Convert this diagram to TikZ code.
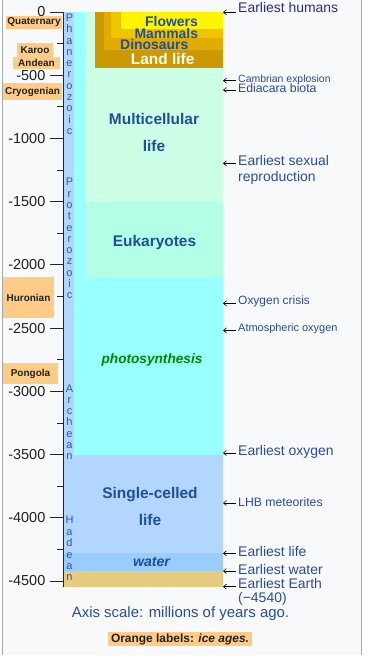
\documentclass[tikz,border=0pt]{standalone}
\usepackage{fontspec}
\setmainfont{Liberation Sans}
\usetikzlibrary{arrows.meta}
\newcommand\pxfont[1]{\fontsize{#1}{#1}\selectfont}
\definecolor{framegray}{HTML}{A2A9B1}
\definecolor{boxbg}{HTML}{F8F9FA}
\definecolor{textgray}{HTML}{202122}
\definecolor{eoncol}{HTML}{B3D6FF}
\definecolor{photocol}{HTML}{99FFFF}
\definecolor{multicol}{HTML}{CCFFE6}
\definecolor{eukcol}{HTML}{B3FFE6}
\definecolor{watercol}{HTML}{99CCFF}
\definecolor{earthcol}{HTML}{E6CC80}
\definecolor{landcol}{HTML}{CC9900}
\definecolor{dinocol}{HTML}{E0AD00}
\definecolor{mammalcol}{HTML}{F0C400}
\definecolor{flowercol}{HTML}{FFF500}
\definecolor{iceorange}{HTML}{FFCC88}
\definecolor{evblue}{HTML}{2A4B9B}
\definecolor{visitblue}{HTML}{2B2B8F}
\definecolor{lifeblue}{HTML}{1F4E9A}
\definecolor{eonblue}{HTML}{2858C0}
\definecolor{photogreen}{HTML}{008800}
\begin{document}
\begin{tikzpicture}[x=1bp,y=-1bp,>={Straight Barb[length=3bp,width=5bp]},
	ticklab/.style={anchor=east,inner sep=0pt,text=textgray,font=\pxfont{14.5}},
	tickline/.style={line width=0.8bp,black!85},
	icebox/.style={fill=iceorange,inner sep=0pt,text=textgray,font=\pxfont{10}\bfseries},
	eonletter/.style={anchor=base,inner sep=0pt,text=eonblue,font=\pxfont{11}},
	goldlab/.style={anchor=base,inner sep=0pt,text=lifeblue,font=\pxfont{14}\bfseries},
	lifelab/.style={inner sep=0pt,text=lifeblue,align=center,font=\fontsize{15.5}{26.7}\selectfont\bfseries},
	event/.style={anchor=base west,inner xsep=2bp,inner ysep=0pt,text=evblue},
	evarrow/.style={->,line width=0.6bp}]
	\useasboundingbox (0,0) rectangle (369,671);
	\fill[white] (0,0) rectangle (369,671);
	\fill[boxbg] (2.5,0) rectangle (361.5,655);
	\draw[framegray] (2.5,0) -- (2.5,655) (361.5,0) -- (361.5,655);
	% the life column
	\fill[eoncol] (63,12) rectangle (74,587);
	\fill[photocol] (74,12) rectangle (223,454.5);
	\fill[multicol] (85,12) rectangle (223,202);
	\fill[eukcol] (85,202) rectangle (223,277);
	\fill[eoncol] (63,454.5) rectangle (223,553.3);
	\fill[watercol] (63,553.3) rectangle (223,571);
	\fill[earthcol] (63,571) rectangle (223,586.7);
	% land life
	\fill[landcol] (95,12) rectangle (223,68.5);
	\fill[dinocol] (104,12) rectangle (223,50.5);
	\fill[mammalcol] (111,12) rectangle (223,38.5);
	\fill[flowercol] (121,12) rectangle (223,29);
	\node[goldlab] (flowers) at (171.5,26.5) {Flowers};
	\node[goldlab] (mammals) at (166.3,38.3) {Mammals};
	\node[goldlab] (dinosaurs) at (154.3,50) {Dinosaurs};
	\node[goldlab,text=white,font=\pxfont{15.5}\bfseries] (landlife) at (162.7,64.3) {Land life};
	% the axis
	\draw[line width=1bp,black!85] (63,12) -- (63,587);
	\foreach \t/\lab in {0/0,500/-500,1000/-1000,1500/-1500,2000/-2000,2500/-2500,3000/-3000,3500/-3500,4000/-4000,4500/-4500}{
		\draw[tickline] (50,{12+0.12644*\t}) -- (63,{12+0.12644*\t});
		\node[ticklab] (tick\t) at (45.5,{12+0.12644*\t}) {\lab};
	}
	\foreach \t in {250,750,...,4250}
		\draw[tickline] (57,{12+0.12644*\t}) -- (63,{12+0.12644*\t});
	% eons
	\foreach \ch [count=\i from 0] in {P,h,a,n,e,r,o,z,o,i,c}
		\node[eonletter] (phan\i) at (69.5,21.5+11.3*\i) {\ch};
	\foreach \ch [count=\i from 0] in {P,r,o,t,e,r,o,z,o,i,c}
		\node[eonletter] (prot\i) at (69.5,185.8+11.3*\i) {\ch};
	\foreach \ch [count=\i from 0] in {A,r,c,h,e,a,n}
		\node[eonletter] (arch\i) at (69.5,392+11.3*\i) {\ch};
	\foreach \ch [count=\i from 0] in {H,a,d,e,a,n}
		\node[eonletter] (hade\i) at (69.5,523.8+11.4*\i) {\ch};
	% ice ages
	\node[icebox,minimum width=56bp,minimum height=12.5bp] (quaternary) at (34,22.5) {Quaternary};
	\node[icebox,minimum width=36bp,minimum height=14bp] (karoo) at (35,50) {Karoo};
	\node[icebox,minimum width=47bp,minimum height=11.5bp] (andean) at (36.5,62.8) {Andean};
	\node[icebox,minimum width=59bp,minimum height=17bp] (cryogenian) at (32.5,91.5) {Cryogenian};
	\node[icebox,minimum width=51bp,minimum height=41bp] (huronian) at (28.5,297.5) {Huronian};
	\node[icebox,minimum width=55bp,minimum height=21bp] (pongola) at (30.5,373.5) {Pongola};
	% life labels
	\node[lifelab,anchor=north] (multicell) at (154,113.5) {Multicellular\\life};
	\node[lifelab,anchor=base] (eukaryotes) at (154.5,246.5) {Eukaryotes};
	\node[lifelab,anchor=base,text=photogreen,font=\pxfont{13.7}\bfseries\itshape] (photo) at (152,363) {photosynthesis};
	\node[lifelab,anchor=north] (singlecell) at (150,487.5) {Single-celled\\life};
	\node[lifelab,anchor=base,font=\pxfont{14.2}\bfseries\itshape] (water) at (151.5,566) {water};
	% events
	\coordinate (humans-tip) at (223,12.3);
	\node[event,text=visitblue,font=\pxfont{14}] (humans) at (236,12.8) {Earliest humans};
	\draw[evarrow] (humans.west |- humans-tip) -- (humans-tip);
	\coordinate (cambrian-tip) at (223,80.7);
	\node[event,font=\pxfont{10.5}] (cambrian) at (236,82.3) {Cambrian explosion};
	\draw[evarrow] (cambrian.west |- cambrian-tip) -- (cambrian-tip);
	\coordinate (ediacara-tip) at (223,90);
	\node[event,font=\pxfont{12.3}] (ediacara) at (236,92.5) {Ediacara biota};
	\draw[evarrow] (ediacara.west |- ediacara-tip) -- (ediacara-tip);
	\coordinate (sexual-tip) at (223,163.3);
	\node[event,anchor=north west,align=left,font=\fontsize{14}{16}\selectfont] (sexual) at (236,155) {Earliest sexual\\reproduction};
	\draw[evarrow] (sexual.west |- sexual-tip) -- (sexual-tip);
	\coordinate (crisis-tip) at (223,303.3);
	\node[event,font=\pxfont{12}] (crisis) at (236,304.5) {Oxygen crisis};
	\draw[evarrow] (crisis.west |- crisis-tip) -- (crisis-tip);
	\coordinate (atmos-tip) at (223,330.3);
	\node[event,font=\pxfont{11}] (atmos) at (236,331) {Atmospheric oxygen};
	\draw[evarrow] (atmos.west |- atmos-tip) -- (atmos-tip);
	\coordinate (oxygen-tip) at (223,453);
	\node[event,font=\pxfont{14}] (oxygen) at (236,455.5) {Earliest oxygen};
	\draw[evarrow] (oxygen.west |- oxygen-tip) -- (oxygen-tip);
	\coordinate (lhb-tip) at (223,503);
	\node[event,font=\pxfont{12.3}] (lhb) at (236,506) {LHB meteorites};
	\draw[evarrow] (lhb.west |- lhb-tip) -- (lhb-tip);
	\coordinate (life-tip) at (223,553.3);
	\node[event,font=\pxfont{14}] (life) at (236,556) {Earliest life};
	\draw[evarrow] (life.west |- life-tip) -- (life-tip);
	\coordinate (wat-tip) at (223,571);
	\node[event,font=\pxfont{14}] (wat) at (236,574) {Earliest water};
	\draw[evarrow] (wat.west |- wat-tip) -- (wat-tip);
	\coordinate (earth-tip) at (223,586.7);
	\node[event,anchor=north west,align=left,font=\fontsize{14}{14.5}\selectfont] (earth) at (236,578) {Earliest Earth\\(−4540)};
	\draw[evarrow] (earth.west |- earth-tip) -- (earth-tip);
	% notes
	\node[anchor=base,inner sep=0pt,text=evblue,font=\pxfont{15}] (axisnote) at (180.5,617) {Axis scale: millions of years ago.};
	\node[icebox,minimum width=144bp,minimum height=14bp,font=\pxfont{12}\bfseries] (orangenote) at (180,639) {Orange labels: \textit{ice ages.}};
\end{tikzpicture}
\end{document}
